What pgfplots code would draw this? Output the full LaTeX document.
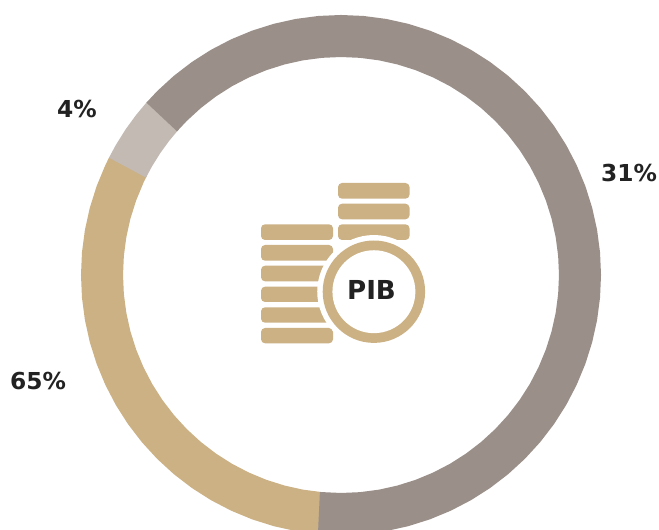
\documentclass[border=0pt]{standalone}
\usepackage{pgfplots}
\pgfplotsset{compat=1.18}
\usepackage{fontspec}
\setmainfont{DejaVu Sans}
\definecolor{tanb}{HTML}{CBB184}
\definecolor{greyb}{HTML}{9A8F89}
\definecolor{lightg}{HTML}{C3BAB4}
\definecolor{ink}{HTML}{222222}
\tikzset{
  lab/.style={font=\bfseries\fontsize{17.5pt}{20pt}\selectfont, text=ink, inner sep=0pt},
  coin/.style={fill=tanb, draw=none, rounded corners=3pt},
}
\begin{document}
\begin{tikzpicture}
\useasboundingbox (0,0) rectangle (494.25pt,397.5pt);
\begin{axis}[
  at={(0,0)}, anchor=south west,
  scale only axis, width=494.25pt, height=397.5pt,
  xmin=0, xmax=659, ymin=0, ymax=530, y dir=reverse,
  hide axis, clip=true,
  every axis plot/.append style={line cap=butt, line join=miter, no markers},
]
% angle (deg), mid radius of the ring (px)
\addplot[draw=tanb, line width=31.5pt] table[row sep=\\,
  x expr={341+\thisrow{r}*cos(\thisrow{a})}, y expr={275-\thisrow{r}*sin(\thisrow{a})}] {
a r\\
152.9 239\\ 155 239\\ 160 239\\ 165 239\\ 170 239\\ 175 239\\ 180 239\\ 185 239\\ 190 239\\ 195 239\\ 200 239\\ 205 239\\ 210 239\\ 215 239\\ 220 239\\ 225 239\\ 230 239\\ 235 239\\ 240 239\\ 245 239\\ 250 239\\ 255 239\\ 260 239\\ 265.1 239\\
};
\addplot[draw=lightg, line width=31.5pt] table[row sep=\\,
  x expr={341+\thisrow{r}*cos(\thisrow{a})}, y expr={275-\thisrow{r}*sin(\thisrow{a})}] {
a r\\
138.2 239\\ 142 239\\ 146 239\\ 150 239\\ 153.3 239\\
};
\addplot[draw=greyb, line width=31.5pt] table[row sep=\\,
  x expr={341+\thisrow{r}*cos(\thisrow{a})}, y expr={275-\thisrow{r}*sin(\thisrow{a})}] {
a r\\
138.6 239\\ 135 239\\ 130 239\\ 125 239\\ 120 239\\ 115 239\\ 110 239\\ 105 239\\ 100 239\\ 95 239\\ 90 239\\ 85 239\\ 80 239\\ 75 239\\ 70 239\\ 65 239\\ 60 239\\ 55 239\\ 50 239\\ 45 239\\ 40 239\\ 35 239\\ 30 239\\ 25 239\\ 20 239\\ 15 239\\ 10 239\\ 5 239\\ 0 239\\ -5 239\\ -10 239\\ -15 239\\ -20 239\\ -25 239\\ -30 239\\ -35 239\\ -40 239\\ -45 239\\ -50 239\\ -55 239\\ -60 239\\ -65 239\\ -70 239\\ -75 239\\ -80 239\\ -85 239\\ -90 239\\ -95.3 239\\
};
% percentage labels
\node[lab] at (axis cs:629,173) {31\%};
\node[lab] at (axis cs:77,109.5) {4\%};
\node[lab] at (axis cs:38,381.5) {65\%};
% coin icon
\fill[coin] (axis cs:261,224.3) rectangle (axis cs:333,240);
\fill[coin] (axis cs:261,245) rectangle (axis cs:333,260.7);
\fill[coin] (axis cs:261,265.7) rectangle (axis cs:333,281.3);
\fill[coin] (axis cs:261,286.7) rectangle (axis cs:333,302);
\fill[coin] (axis cs:261,307.3) rectangle (axis cs:333,322.7);
\fill[coin] (axis cs:261,328) rectangle (axis cs:333,343.3);
\fill[coin] (axis cs:338,183) rectangle (axis cs:409.5,198.7);
\fill[coin] (axis cs:338,203.7) rectangle (axis cs:409.5,219.3);
\fill[coin] (axis cs:338,224.3) rectangle (axis cs:409.5,240);
\fill[white] (axis cs:373.9,291.7) circle [radius=42.5pt];
\fill[tanb] (axis cs:373.9,291.7) circle [radius=38.4pt];
\fill[white] (axis cs:373.9,291.7) circle [radius=31.1pt];
\node[font=\bfseries\fontsize{19.6pt}{22pt}\selectfont, text=ink, inner sep=0pt] at (axis cs:371.5,290) {PIB};
\end{axis}
\end{tikzpicture}
\end{document}
